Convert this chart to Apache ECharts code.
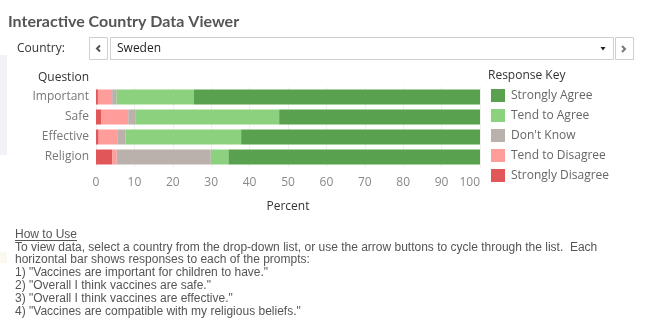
<!DOCTYPE html>
<html>
<head>
<meta charset="utf-8">
<script src="https://cdn.jsdelivr.net/npm/echarts@6/dist/echarts.min.js"></script>
<style>
html,body{margin:0;padding:0;background:#fff;}
#chart{width:665px;height:323px;}
</style>
</head>
<body>
<div id="chart"></div>
<script>
// ---- data ----
const categories = ['Important', 'Safe', 'Effective', 'Religion'];
const responseKeys = ['Strongly Disagree', 'Tend to Disagree', "Don't Know", 'Tend to Agree', 'Strongly Agree'];
const stronglyDisagree = [0.5, 1.3, 0.7, 4.2];
const tendToDisagree = [3.7, 7.1, 5.0, 1.2];
const dontKnow = [1.2, 1.8, 2.0, 24.5];
const tendToAgree = [20.1, 37.5, 30.1, 4.6];
const stronglyAgree = [74.5, 52.3, 62.2, 65.5];
const legendOrder = ['Strongly Agree', 'Tend to Agree', "Don't Know", 'Tend to Disagree', 'Strongly Disagree'];
const colors = ['#E15759', '#FF9D9A', '#BAB0AC', '#8CD17D', '#59A14F'];
const titleText = 'Interactive Country Data Viewer';
const countryLabel = 'Country:';
const countryName = 'Sweden';
const helpLines = [
  'How to Use',
  'To view data, select a country from the drop-down list, or use the arrow buttons to cycle through the list.  Each',
  'horizontal bar shows responses to each of the prompts:',
  '1) "Vaccines are important for children to have."',
  '2) "Overall I think vaccines are safe."',
  '3) "Overall I think vaccines are effective."',
  '4) "Vaccines are compatible with my religious beliefs."'
];

const seriesValues = [stronglyDisagree, tendToDisagree, dontKnow, tendToAgree, stronglyAgree];
const UI = 'Open Sans, Lato, sans-serif';
const ARIAL = 'Liberation Sans, Arial, sans-serif';

const chart = echarts.init(document.getElementById('chart'), null, {renderer: 'canvas'});

const graphics = [
  {type: 'rect', shape: {x: 0, y: 55, width: 7, height: 100}, style: {fill: '#f0f2f8'}, silent: true},
  {type: 'rect', shape: {x: 0, y: 252, width: 7, height: 11}, style: {fill: '#fbf8ee'}, silent: true},
  {type: 'text', x: 8, y: 21.5, style: {text: titleText, font: 'bold 16px Lato, sans-serif', fill: '#555', textVerticalAlign: 'middle'}},
  {type: 'text', x: 17, y: 48.5, style: {text: countryLabel, font: '12px ' + UI, fill: '#333', textVerticalAlign: 'middle'}},
  {type: 'rect', shape: {x: 89.5, y: 37.5, width: 18, height: 22}, style: {fill: '#fff', stroke: '#cfcfcf', lineWidth: 1}},
  {type: 'polyline', shape: {points: [[100, 45.5], [97, 48.5], [100, 51.5]]}, style: {stroke: '#555', lineWidth: 2, fill: null}},
  {type: 'rect', shape: {x: 110.5, y: 37.5, width: 503, height: 22}, style: {fill: '#fff', stroke: '#cfcfcf', lineWidth: 1}},
  {type: 'text', x: 117, y: 49, style: {text: countryName, font: '12px ' + UI, fill: '#222', textVerticalAlign: 'middle'}},
  {type: 'polygon', shape: {points: [[600.5, 47], [605.5, 47], [603, 50.5]]}, style: {fill: '#222'}},
  {type: 'rect', shape: {x: 615.5, y: 37.5, width: 18, height: 22}, style: {fill: '#fff', stroke: '#cfcfcf', lineWidth: 1}},
  {type: 'polyline', shape: {points: [[622, 46], [625, 49], [622, 52]]}, style: {stroke: '#777', lineWidth: 2, fill: null}},
  {type: 'text', x: 89, y: 77.5, style: {text: 'Question', font: '12px ' + UI, fill: '#333', textAlign: 'right', textVerticalAlign: 'middle'}},
  {type: 'text', x: 488, y: 75.5, style: {text: 'Response Key', font: '12px ' + UI, fill: '#333', textVerticalAlign: 'middle'}},
  {type: 'line', shape: {x1: 15, y1: 240.5, x2: 77, y2: 240.5}, style: {stroke: '#555', lineWidth: 1}}
];
helpLines.forEach(function (t, i) {
  graphics.push({type: 'text', x: 15, y: 234.5 + 12.8 * i, style: {text: t, font: '12px ' + ARIAL, fill: '#555', textVerticalAlign: 'middle'}});
});

const option = {
  animation: false,
  color: colors,
  grid: {left: 96, right: 185, top: 87, height: 80, containLabel: false},
  xAxis: {
    type: 'value', min: 0, max: 100, interval: 10,
    axisLine: {show: false}, axisTick: {show: false},
    splitLine: {show: true, lineStyle: {color: '#f0f0f0', width: 1}},
    axisLabel: {color: '#888', fontSize: 12, fontFamily: UI, margin: 10, alignMaxLabel: 'right'},
    name: 'Percent', nameLocation: 'middle', nameGap: 34,
    nameTextStyle: {color: '#333', fontSize: 12, fontFamily: UI}
  },
  yAxis: {
    type: 'category', data: categories, inverse: true,
    axisLine: {show: false}, axisTick: {show: false}, splitLine: {show: false},
    axisLabel: {color: '#777', fontSize: 12, fontFamily: UI, margin: 7}
  },
  legend: {
    orient: 'vertical', left: 491, top: 89, itemWidth: 14, itemHeight: 13, itemGap: 7,
    icon: 'rect', selectedMode: false, padding: 0,
    data: legendOrder,
    textStyle: {color: '#666', fontSize: 12, fontFamily: UI, lineHeight: 13, padding: [0, 0, 0, 1]}
  },
  series: responseKeys.map(function (name, i) {
    return {
      name: name, type: 'bar', stack: 'total', barWidth: 15, silent: true,
      itemStyle: {color: colors[i]},
      data: seriesValues[i]
    };
  }),
  graphic: graphics
};
chart.setOption(option);
</script>
</body>
</html>
